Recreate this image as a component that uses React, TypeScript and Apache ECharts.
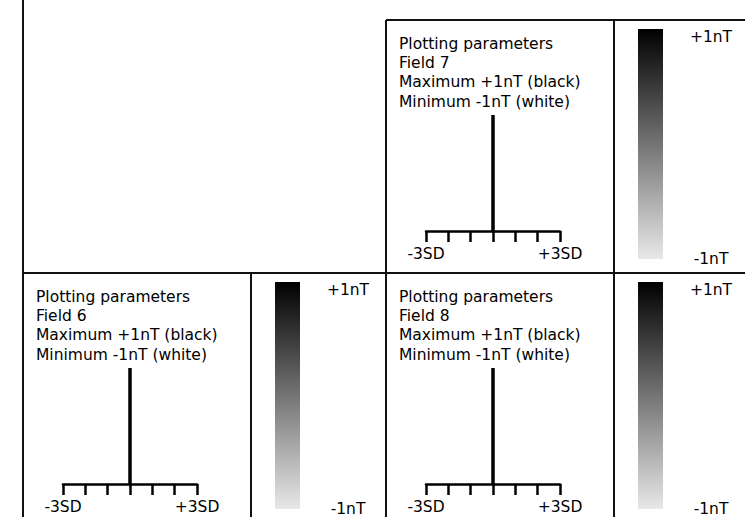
import React, { useEffect, useRef } from 'react';
import * as echarts from 'echarts';

// ---- data ----
const fieldNames = ['Field 7', 'Field 6', 'Field 8'];
const headerTitle = 'Plotting parameters';
const maxLine = 'Maximum +1nT (black)';
const minLine = 'Minimum -1nT (white)';
const colorMin = -1;
const colorMax = 1;
const colorMaxLabel = '+1nT';
const colorMinLabel = '-1nT';
const sdMin = -3;
const sdMax = 3;
const sdStep = 1;
const sdMinLabel = '-3SD';
const sdMaxLabel = '+3SD';
const stemData = [[0, 0], [0, 1]];
const colorbarData = [[0, colorMin, colorMax]];

// ---- layout ----
const panelOrigins = [
  { L: 386, T: 20 },
  { L: 23, T: 273 },
  { L: 386, T: 273 },
];
const FONT = 'DejaVu Sans';
const FS = 15.5;

export default function App() {
  const ref = useRef<HTMLDivElement>(null);
  useEffect(() => {
    if (!ref.current) return;
    const chart = echarts.init(ref.current, null, { renderer: 'svg' });
    const title: any[] = [];
    const grid: any[] = [];
    const xAxis: any[] = [];
    const yAxis: any[] = [];
    const series: any[] = [];
    panelOrigins.forEach((p, i) => {
      const { L, T } = p;
      title.push({
        text: [headerTitle, fieldNames[i], maxLine, minLine].join('\n'),
        left: L + 13,
        top: T + 14,
        padding: 0,
        textStyle: { fontFamily: FONT, fontSize: FS, fontWeight: 'normal', color: '#000', lineHeight: 19.3 },
      });
      grid.push({ left: L + 40, top: T + 95, width: 134, height: 116 });
      grid.push({ left: L + 252, top: T + 9, width: 25, height: 230 });
      xAxis.push({
        type: 'value', gridIndex: 2 * i, min: sdMin, max: sdMax, interval: sdStep,
        axisLine: { show: true, lineStyle: { color: '#000', width: 2.5 } },
        axisTick: { show: true, length: 11, lineStyle: { color: '#000', width: 2.5 } },
        splitLine: { show: false },
        axisLabel: {
          show: true, margin: 15, fontFamily: FONT, fontSize: FS, color: '#000',
          showMinLabel: true, showMaxLabel: true,
          formatter: (v: number) => (v === sdMin ? sdMinLabel : v === sdMax ? sdMaxLabel : ''),
        },
      });
      yAxis.push({ type: 'value', gridIndex: 2 * i, min: 0, max: 1, show: false });
      xAxis.push({ type: 'value', gridIndex: 2 * i + 1, min: 0, max: 1, show: false });
      yAxis.push({
        type: 'value', gridIndex: 2 * i + 1, min: colorMin, max: colorMax, interval: colorMax - colorMin,
        position: 'right',
        axisLine: { show: false }, axisTick: { show: false }, splitLine: { show: false },
        axisLabel: {
          show: true, margin: 48, align: 'center', verticalAlignMaxLabel: 'top',
          fontFamily: FONT, fontSize: FS, color: '#000',
          formatter: (v: number) => (v === colorMax ? colorMaxLabel : v === colorMin ? colorMinLabel : ''),
        },
      });
      series.push({
        type: 'line', xAxisIndex: 2 * i, yAxisIndex: 2 * i, data: stemData,
        symbol: 'none', lineStyle: { color: '#000', width: 3.5 }, z: 5, silent: true,
      });
      series.push({
        type: 'custom', xAxisIndex: 2 * i + 1, yAxisIndex: 2 * i + 1, data: colorbarData,
        encode: { x: 0, y: [1, 2] }, silent: true,
        renderItem: (params: any, api: any) => {
          const p0 = api.coord([0, api.value(2)]);
          const p1 = api.coord([1, api.value(1)]);
          return {
            type: 'rect',
            shape: { x: p0[0], y: p0[1], width: p1[0] - p0[0], height: p1[1] - p0[1] },
            style: {
              fill: new echarts.graphic.LinearGradient(0, 0, 0, 1, [
                { offset: 0, color: '#000000' },
                { offset: 1, color: '#e8e8e8' },
              ]),
            },
          };
        },
      });
    });
    const stroke = { stroke: '#111', lineWidth: 2 };
    const borders = [
      [23, 0, 23, 517],
      [23, 273, 745, 273],
      [386, 20, 745, 20],
      [386, 20, 386, 517],
      [614, 20, 614, 517],
      [251, 273, 251, 517],
    ];
    const graphic = borders.map((b) => ({
      type: 'line', silent: true, z: 10,
      shape: { x1: b[0], y1: b[1], x2: b[2], y2: b[3] },
      style: stroke,
    }));
    chart.setOption({
      animation: false,
      backgroundColor: '#fff',
      textStyle: { fontFamily: FONT },
      title, grid, xAxis, yAxis, series, graphic,
    });
    return () => chart.dispose();
  }, []);
  return (
    <div
      ref={ref}
      style={{ position: 'fixed', left: 0, top: 0, width: 745, height: 517, background: '#fff' }}
    />
  );
}
